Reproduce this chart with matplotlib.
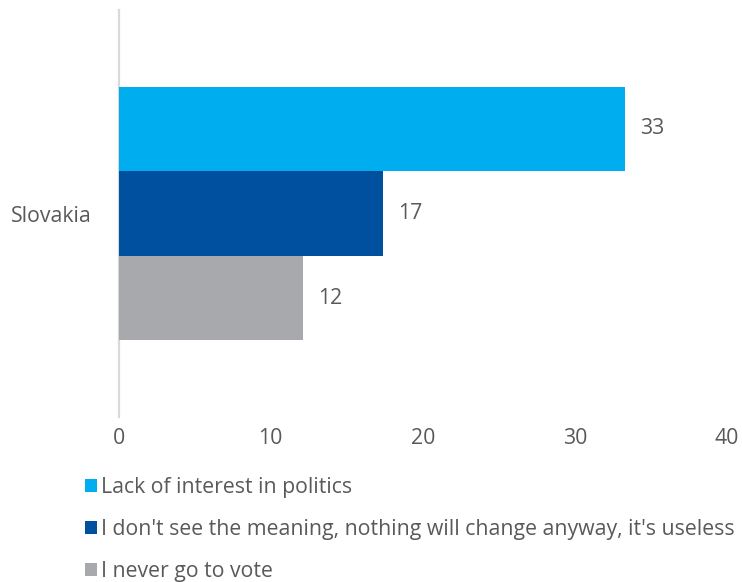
import matplotlib
matplotlib.use("Agg")
import matplotlib.pyplot as plt
from matplotlib.patches import Patch

plt.rcParams['font.family'] = ['Open Sans', 'DejaVu Sans']

categories = ["Slovakia"]
series_names = [
    "Lack of interest in politics",
    "I don't see the meaning, nothing will change anyway, it's useless",
    "I never go to vote",
]
series_values = [33.3, 17.4, 12.1]
series_colors = ["#00AEEF", "#0050A0", "#A7A9AC"]
x_ticks = [0, 10, 20, 30, 40]

text_color = "#595959"
fs = 15.3

W, H = 742, 582
fig = plt.figure(figsize=(W / 100, H / 100), dpi=100)
ax = fig.add_axes([118.5 / W, 1 - 417 / H, (727 - 118.5) / W, (417 - 10) / H])

bar_h = 0.208
n = len(series_values)
for i, (name, val, col) in enumerate(zip(series_names, series_values, series_colors)):
    y = (n - 1) / 2 * bar_h - i * bar_h
    ax.barh(y, val, height=bar_h, color=col, label=name)
    ax.annotate(f"{val:.0f}", xy=(val, y), xytext=(11, 0), textcoords="offset points",
                ha="left", va="center", fontsize=fs, color=text_color)

ax.set_xlim(0, 40)
ax.set_ylim(-0.5, 0.5)
ax.set_xticks(x_ticks)
ax.set_yticks([0])
ax.set_yticklabels(categories)
ax.tick_params(axis="both", length=0, labelsize=fs, labelcolor=text_color)
ax.tick_params(axis="x", pad=8)
ax.tick_params(axis="y", pad=19)

for s in ["top", "right", "bottom"]:
    ax.spines[s].set_visible(False)
ax.spines["left"].set_color("#D9D9D9")
ax.spines["left"].set_linewidth(1.6)
ax.spines["left"].set_zorder(0)

handles = [Patch(facecolor=c, edgecolor="none") for c in series_colors]
leg = fig.legend(handles, series_names, loc="upper left",
                 bbox_to_anchor=(85 / W, 1 - 477 / H), frameon=False,
                 fontsize=fs, labelcolor=text_color,
                 handlelength=0.55, handleheight=0.55, handletextpad=0.2,
                 labelspacing=0.98, borderaxespad=0, borderpad=0)

fig.savefig("out.png", dpi=100)
